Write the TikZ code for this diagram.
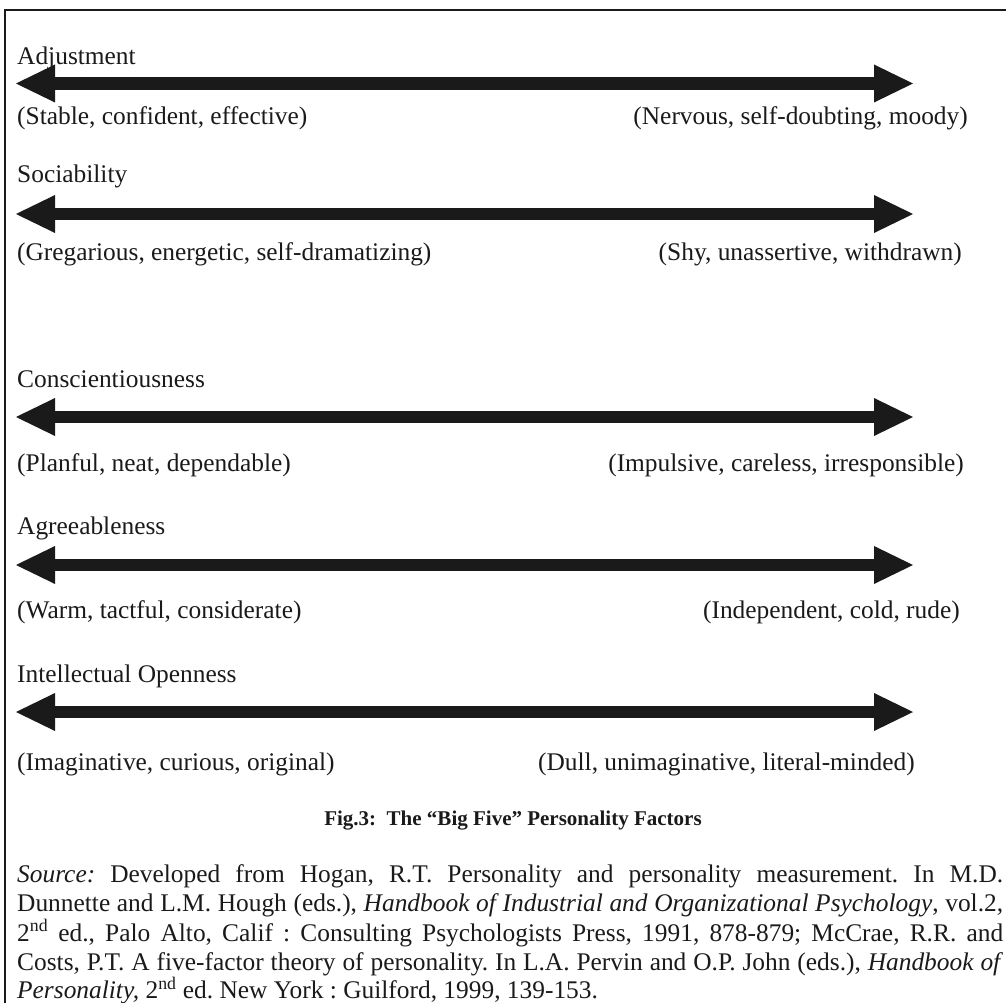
\documentclass[tikz,border=0pt]{standalone}
\usepackage{fontspec}
\setmainfont{Liberation Serif}
\usetikzlibrary{arrows.meta}
\definecolor{ink}{HTML}{1A1A1A}
\frenchspacing
\begin{document}
\begin{tikzpicture}[x=1pt,y=-1pt,
  lbl/.style={anchor=base west, inner sep=0pt, text=ink,
    font=\fontsize{25.4}{29.1}\selectfont},
  rlbl/.style={lbl, anchor=base east},
  srcline/.style={lbl},
  caption/.style={anchor=base, inner sep=0pt, text=ink,
    font=\bfseries\fontsize{21}{25}\selectfont},
  bipolar/.style={draw=ink, line width=12.8pt, {Triangle[length=39pt,width=38pt,line width=0pt]}-{Triangle[length=39pt,width=38pt,line width=0pt]}},
  frame/.style={draw=ink, line width=2.2pt, line join=miter}
]
\useasboundingbox (0,0) rectangle (1006,1003);
\clip (0,0) rectangle (1006,1003);

% open frame: left and top rules
\coordinate (frameBL) at (5,1010);
\coordinate (frameTR) at (1012,10);
\draw[frame] (frameBL) |- (frameTR);

% Adjustment
\node[lbl] (adj) at (17,65) {Adjustment};
\coordinate (adjL) at (16,83.5);
\coordinate (adjR) at (913,83.5);
\draw[bipolar] (adjL) -- (adjR);
\node[lbl]  (adjLo) at (17,125)  {(Stable, confident, effective)};
\node[rlbl] (adjHi) at (968,125) {(Nervous, self-doubting, moody)};

% Sociability
\node[lbl] (soc) at (17,183) {Sociability};
\coordinate (socL) at (16,214);
\coordinate (socR) at (913,214);
\draw[bipolar] (socL) -- (socR);
\node[lbl]  (socLo) at (17,260)  {(Gregarious, energetic, self-dramatizing)};
\node[rlbl] (socHi) at (962,260) {(Shy, unassertive, withdrawn)};

% Conscientiousness
\node[lbl] (con) at (17,387) {Conscientiousness};
\coordinate (conL) at (16,417);
\coordinate (conR) at (913,417);
\draw[bipolar] (conL) -- (conR);
\node[lbl]  (conLo) at (17,471)  {(Planful, neat, dependable)};
\node[rlbl] (conHi) at (964,471) {(Impulsive, careless, irresponsible)};

% Agreeableness
\node[lbl] (agr) at (17,534) {Agreeableness};
\coordinate (agrL) at (16,565);
\coordinate (agrR) at (913,565);
\draw[bipolar] (agrL) -- (agrR);
\node[lbl]  (agrLo) at (17,618)  {(Warm, tactful, considerate)};
\node[rlbl] (agrHi) at (960,618) {(Independent, cold, rude)};

% Intellectual Openness
\node[lbl] (opn) at (17,682) {Intellectual Openness};
\coordinate (opnL) at (16,712);
\coordinate (opnR) at (913,712);
\draw[bipolar] (opnL) -- (opnR);
\node[lbl]  (opnLo) at (17,770)  {(Imaginative, curious, original)};
\node[rlbl] (opnHi) at (915,770) {(Dull, unimaginative, literal-minded)};

% caption
\node[caption] (cap) at (513,825) {Fig.3:\hspace{0.5em}The “Big Five” Personality Factors};

% source note, justified lines
\node[srcline] (src1) at (17,882) {\makebox[986pt][s]{\textit{Source:} Developed from Hogan, R.T. Personality and personality measurement. In M.D.}};
\node[srcline] (src2) at (17,911.5) {\makebox[986pt][s]{Dunnette and L.M. Hough (eds.), \textit{Handbook of Industrial and Organizational Psychology}, vol.2,}};
\node[srcline] (src3) at (17,941) {\makebox[986pt][s]{2\textsuperscript{nd} ed., Palo Alto, Calif : Consulting Psychologists Press, 1991, 878-879; McCrae, R.R. and}};
\node[srcline] (src4) at (17,970) {\makebox[986pt][s]{Costs, P.T. A five-factor theory of personality. In L.A. Pervin and O.P. John (eds.), \textit{Handbook of}}};
\node[srcline] (src5) at (17,998.5) {\textit{Personality,} 2\textsuperscript{nd} ed. New York : Guilford, 1999, 139-153.};
\end{tikzpicture}
\end{document}
